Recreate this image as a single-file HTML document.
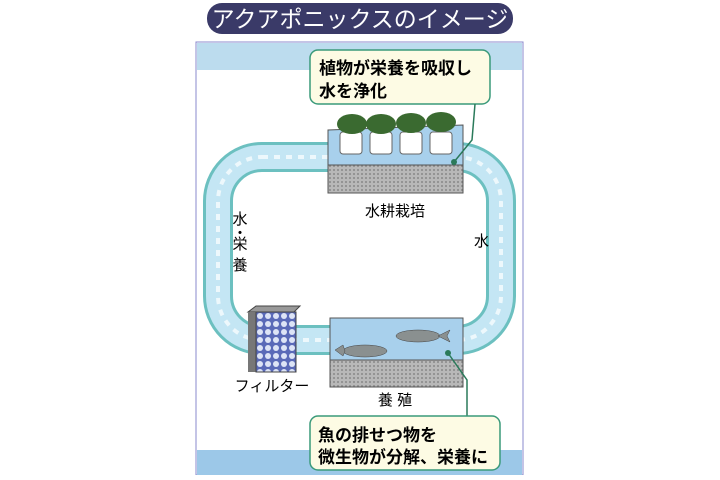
<!DOCTYPE html>
<html><head><meta charset="utf-8"><style>
body{margin:0;width:720px;height:475px;background:#fff;overflow:hidden;font-family:"Liberation Sans","Noto Sans CJK JP",sans-serif;}
</style></head><body>
<svg width="720" height="475" xmlns="http://www.w3.org/2000/svg" font-family="Liberation Sans, Noto Sans CJK JP, sans-serif">
<defs>
<pattern id="dots" width="4" height="4" patternUnits="userSpaceOnUse"><rect width="4" height="4" fill="#b8b8b8"/><circle cx="2" cy="2" r="1" fill="#888"/></pattern>
<pattern id="hex" width="8" height="8" patternUnits="userSpaceOnUse"><rect width="8" height="8" fill="#5a6ab8"/><circle cx="4" cy="4" r="3" fill="#dde4f6"/></pattern>
</defs>
<rect x="207" y="3" width="306" height="31" rx="15" fill="#3a3a68"/>
<text x="360" y="27" font-size="23" fill="#fff" text-anchor="middle">アクアポニックスのイメージ</text>
<rect x="196" y="42" width="327" height="433" fill="#fff" stroke="#8888cc" stroke-width="1"/>
<rect x="197" y="43" width="325" height="27" fill="#bcdcee"/>
<rect x="197" y="450" width="325" height="25" fill="#9cc8e8"/>
<rect x="218" y="157" width="283" height="183" rx="44" fill="none" stroke="#6cc0c0" stroke-width="30"/>
<rect x="218" y="157" width="283" height="183" rx="44" fill="none" stroke="#c4e6f4" stroke-width="24"/>
<rect x="218" y="157" width="283" height="183" rx="44" fill="none" stroke="#fff" stroke-width="4" stroke-dasharray="6 6" opacity="0.7"/>
<!-- planter -->
<polygon points="328,130 463,125 463,165 328,165" fill="#a8d0ec" stroke="#555"/>
<rect x="328" y="165" width="135" height="28" fill="url(#dots)" stroke="#555"/>
<g fill="#fff" stroke="#666">
<rect x="340" y="132" width="22" height="22" rx="3"/><rect x="370" y="132" width="22" height="22" rx="3"/><rect x="400" y="132" width="22" height="22" rx="3"/><rect x="430" y="132" width="22" height="22" rx="3"/></g>
<g fill="#3a6a30"><ellipse cx="352" cy="124" rx="15" ry="10"/><ellipse cx="381" cy="124" rx="15" ry="10"/><ellipse cx="411" cy="123" rx="15" ry="10"/><ellipse cx="441" cy="122" rx="15" ry="10"/></g>
<text x="395" y="216" font-size="15" text-anchor="middle">水耕栽培</text>
<!-- callout top -->
<rect x="310" y="50" width="180" height="54" rx="8" fill="#fdfbe4" stroke="#3a9a7a" stroke-width="1.5"/>
<text x="319" y="74" font-size="17" font-weight="bold">植物が栄養を吸収し</text>
<text x="319" y="97" font-size="17" font-weight="bold">水を浄化</text>
<polyline points="475,104 472,140 454,162" fill="none" stroke="#2a7a5a" stroke-width="1.5"/>
<circle cx="454" cy="162" r="3" fill="#2a7a5a"/>
<!-- filter -->
<polygon points="248,312 256,306 300,306 294,312" fill="#999" stroke="#444"/>
<rect x="248" y="312" width="8" height="60" fill="#777"/>
<rect x="256" y="312" width="40" height="60" fill="url(#hex)" stroke="#444"/>
<text x="272" y="391" font-size="15" text-anchor="middle">フィルター</text>
<!-- tank -->
<rect x="330" y="318" width="133" height="42" fill="#a8d0ec" stroke="#555"/>
<rect x="330" y="360" width="133" height="27" fill="url(#dots)" stroke="#555"/>
<g fill="#8a9090" stroke="#444" stroke-width="0.5">
<ellipse cx="418" cy="336" rx="22" ry="6"/><polygon points="438,336 450,330 447,336 450,342"/>
<ellipse cx="365" cy="351" rx="22" ry="6"/><polygon points="345,351 343,345 335,350 343,356"/></g>
<circle cx="448" cy="353" r="3" fill="#2a7a5a"/>
<polyline points="448,353 467,380 467,416" fill="none" stroke="#2a7a5a" stroke-width="1.5"/>
<text x="395" y="405" font-size="15" text-anchor="middle">養 殖</text>
<!-- callout bottom -->
<rect x="310" y="416" width="190" height="54" rx="8" fill="#fdfbe4" stroke="#3a9a7a" stroke-width="1.5"/>
<text x="318" y="441" font-size="17" font-weight="bold">魚の排せつ物を</text>
<text x="318" y="463" font-size="17" font-weight="bold">微生物が分解、栄養に</text>
<text x="240" y="224" font-size="15" text-anchor="middle">水</text>
<text x="240" y="238" font-size="15" text-anchor="middle">・</text>
<text x="240" y="249" font-size="15" text-anchor="middle">栄</text>
<text x="240" y="270" font-size="15" text-anchor="middle">養</text>
<text x="474" y="246" font-size="15">水</text>
</svg>
</body></html>
